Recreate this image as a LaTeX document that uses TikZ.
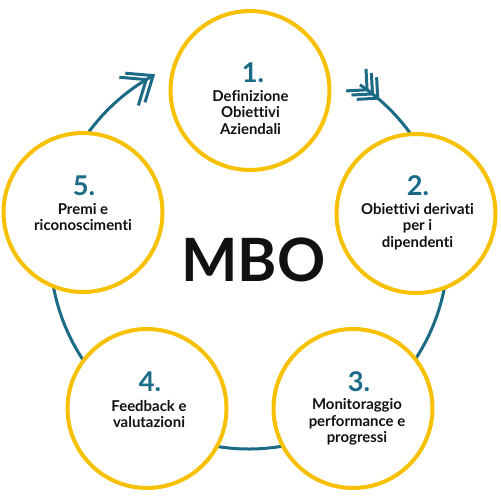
\documentclass[tikz,border=0pt]{standalone}
\usepackage{fontspec}
\setmainfont{Lato}[Ligatures=NoCommon]
\usetikzlibrary{calc}
\definecolor{ringyellow}{RGB}{247,193,0}
\definecolor{flowblue}{RGB}{27,107,135}
\definecolor{txtblack}{RGB}{17,17,17}
\begin{document}
\begin{tikzpicture}[x=0.02cm,y=0.02cm,
  ring/.style={circle, draw=ringyellow, line width=0.08cm, fill=white, minimum size=3.18cm, inner sep=0pt},
  flow/.style={draw=flowblue, line width=0.06cm},
  num/.style={text=flowblue, font=\fontsize{15.5}{15.5}\selectfont\bfseries, inner sep=0pt},
  lbl/.style={text=txtblack, font=\fontsize{8.5}{9.4}\selectfont\bfseries, align=center, inner sep=0pt},
  big/.style={text=txtblack, font=\fontsize{34}{34}\selectfont\bfseries, inner sep=0pt}]
\useasboundingbox (0,0) rectangle (500,500);
\fill[white] (0,0) rectangle (500,500);
\coordinate (O) at (249,250);
% main cycle
\draw[flow] ($(O)+(56.1:199)$) arc[start angle=56.1, end angle=-241.2, radius=199];
% arrow head (double chevron)
\coordinate (T) at ($(O)+(118.8:199)$);
\coordinate (T2) at ($(O)+(121.1:199)$);
\draw[flow, line join=miter] ($(T)+(175:28)$) -- (T) -- ($(T)+(253:28)$);
\draw[flow, line join=miter] ($(T2)+(175:27)$) -- (T2) -- ($(T2)+(253:27)$);
% fletching
\foreach \a [count=\i] in {53.6,51.65,49.7}{
  \coordinate (F\i) at ($(O)+(\a:199)$);
  \draw[flow, line join=miter] ($(F\i)+(93:21)$) -- (F\i) -- ($(F\i)+(183:21)$);
}
% rings
\node[ring] (c1) at (250,409.5) {};
\node[ring] (c2) at (416,286.5) {};
\node[ring] (c3) at (353,91.5) {};
\node[ring] (c4) at (147,91.5) {};
\node[ring] (c5) at (83,287.5) {};
% numbers
\node[num] (n1) at (253,427.5) {1.};
\node[num] (n2) at (418,314) {2.};
\node[num] (n3) at (359,118) {3.};
\node[num] (n4) at (150,118) {4.};
\node[num] (n5) at (84,314) {5.};
% labels
\node[lbl] (b1) at (250.5,387.5) {Definizione\\Obiettivi\\Aziendali};
\node[lbl] (b2) at (417.5,273.5) {Obiettivi derivati\\per i\\dipendenti};
\node[lbl] (b3) at (357,78) {Monitoraggio\\performance e\\progressi};
\node[lbl] (b4) at (149,86) {Feedback e\\valutazioni};
\node[lbl] (b5) at (83,283) {Premi e\\riconoscimenti};
% title
\node[big] (mbo) at (253.5,240.5) {MBO};
\end{tikzpicture}
\end{document}
